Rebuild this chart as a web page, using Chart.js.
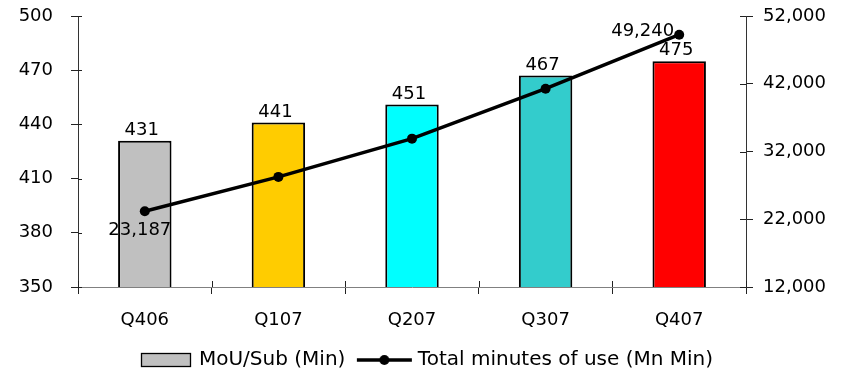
<!DOCTYPE html>
<html>
<head>
<meta charset="utf-8">
<script src="https://cdn.jsdelivr.net/npm/chart.js@4/dist/chart.umd.min.js"></script>
<style>
  html, body { margin: 0; padding: 0; background: #ffffff; }
  #wrap { width: 842px; height: 374px; }
</style>
</head>
<body>
<div id="wrap"><canvas id="c" width="842" height="374"></canvas></div>
<script>
// ---- data ----
const categories = ['Q406', 'Q107', 'Q207', 'Q307', 'Q407'];
const mouPerSub = [431, 441, 451, 467, 475];
const totalMinutes = [23187, 28250, 33900, 41270, 49240];
const lineLabelIndexes = [0, 4];
const seriesNames = ['MoU/Sub (Min)', 'Total minutes of use (Mn Min)'];
const leftTicks = { min: 350, max: 500, step: 30 };
const rightTicks = { min: 12000, max: 52000, step: 10000 };

// ---- styles ----
const barColors = ['#C0C0C0', '#FFCC00', '#00FFFF', '#33CCCC', '#FF0000'];
const FONT = 'DejaVu Sans';
const fmt = v => Number(v).toLocaleString('en-US');

// legend symbol images
function makeBarSymbol() {
  const c = document.createElement('canvas');
  c.width = 72; c.height = 16;
  const g = c.getContext('2d');
  g.fillStyle = '#C0C0C0';
  g.fillRect(18.5, 1.5, 49, 13);
  g.strokeStyle = '#000';
  g.lineWidth = 1.3;
  g.strokeRect(18.5, 1.5, 49, 13);
  return c;
}
function makeLineSymbol() {
  const c = document.createElement('canvas');
  c.width = 72; c.height = 16;
  const g = c.getContext('2d');
  g.strokeStyle = '#000';
  g.lineWidth = 3.5;
  g.beginPath(); g.moveTo(15, 8); g.lineTo(70, 8); g.stroke();
  g.fillStyle = '#000';
  g.beginPath(); g.arc(42.5, 8, 5, 0, Math.PI * 2); g.fill();
  return c;
}
const barSym = makeBarSymbol();
const lineSym = makeLineSymbol();

// crossing tick marks (inner halves) + data labels
const extras = {
  id: 'extras',
  afterDatasetsDraw(chart) {
    const ctx = chart.ctx;
    const ca = chart.chartArea;
    const yL = chart.scales.y, yR = chart.scales.y1, x = chart.scales.x;
    ctx.save();
    ctx.strokeStyle = '#222';
    ctx.lineWidth = 1;
    yL.ticks.forEach(t => {
      const py = Math.round(yL.getPixelForValue(t.value)) + 0.5;
      ctx.beginPath(); ctx.moveTo(ca.left, py); ctx.lineTo(ca.left + 4, py); ctx.stroke();
    });
    yR.ticks.forEach(t => {
      const py = Math.round(yR.getPixelForValue(t.value)) + 0.5;
      ctx.beginPath(); ctx.moveTo(ca.right - 6, py); ctx.lineTo(ca.right, py); ctx.stroke();
    });
    const n = categories.length;
    for (let i = 0; i <= n; i++) {
      const px = Math.round(x.getPixelForValue(i - 0.5)) + 0.5;
      ctx.beginPath(); ctx.moveTo(px, ca.bottom - 6); ctx.lineTo(px, ca.bottom); ctx.stroke();
    }
    // labels
    ctx.fillStyle = '#000';
    ctx.font = '18px "' + FONT + '"';
    ctx.textBaseline = 'alphabetic';
    const barMeta = chart.getDatasetMeta(0);
    barMeta.data.forEach((el, i) => {
      ctx.textAlign = 'center';
      ctx.fillText(String(mouPerSub[i]), el.x - 3, el.y - 6);
    });
    const lineMeta = chart.getDatasetMeta(1);
    lineLabelIndexes.forEach(i => {
      const el = lineMeta.data[i];
      if (i === 0) {
        ctx.textAlign = 'center';
        ctx.fillText(fmt(totalMinutes[i]), el.x - 5, el.y + 24);
      } else {
        ctx.textAlign = 'right';
        ctx.fillText(fmt(totalMinutes[i]), el.x - 5, el.y + 1);
      }
    });
    ctx.restore();
  }
};

const noVPad = s => { s.paddingTop = 0; s.paddingBottom = 0; };

new Chart(document.getElementById('c'), {
  type: 'bar',
  data: {
    labels: categories,
    datasets: [
      {
        type: 'bar',
        label: seriesNames[0],
        data: mouPerSub,
        backgroundColor: barColors,
        borderColor: '#000',
        borderWidth: 2,
        borderSkipped: false,
        barPercentage: 0.40,
        categoryPercentage: 1.0,
        yAxisID: 'y',
        order: 1
      },
      {
        type: 'line',
        label: seriesNames[1],
        data: totalMinutes,
        borderColor: '#000',
        backgroundColor: '#000',
        borderWidth: 3.5,
        pointRadius: 5,
        pointBackgroundColor: '#000',
        pointBorderWidth: 0,
        tension: 0,
        yAxisID: 'y1',
        order: 0
      }
    ]
  },
  options: {
    responsive: false,
    animation: false,
    devicePixelRatio: 1,
    layout: { padding: { top: 16, left: 0, right: 0, bottom: -6 } },
    plugins: {
      tooltip: { enabled: false },
      legend: {
        position: 'bottom',
        labels: {
          usePointStyle: true,
          pointStyleWidth: 60,
          padding: 2.5,
          color: '#000',
          font: { family: FONT, size: 20 },
          generateLabels: () => [
            { text: seriesNames[0], pointStyle: barSym, datasetIndex: 0, hidden: false, lineWidth: 0, fillStyle: '#C0C0C0', strokeStyle: '#000', fontColor: '#000' },
            { text: seriesNames[1], pointStyle: lineSym, datasetIndex: 1, hidden: false, lineWidth: 0, fillStyle: '#000', strokeStyle: '#000', fontColor: '#000' }
          ]
        }
      }
    },
    scales: {
      x: {
        offset: true,
        grid: { display: true, offset: true, drawOnChartArea: false, tickLength: 7, color: '#222', lineWidth: 1 },
        border: { display: true, color: '#808080', width: 1 },
        ticks: { color: '#000', font: { family: FONT, size: 18 }, padding: 16, maxRotation: 0 },
        afterFit: s => { s.height = 60.5; }
      },
      y: {
        position: 'left',
        min: leftTicks.min, max: leftTicks.max,
        grid: { drawOnChartArea: false, tickLength: 7, color: '#222', lineWidth: 1 },
        border: { display: true, color: '#333', width: 1 },
        ticks: { stepSize: leftTicks.step, color: '#000', font: { family: FONT, size: 18 }, padding: 18 },
        afterFit: s => { s.width = 78; noVPad(s); }
      },
      y1: {
        position: 'right',
        min: rightTicks.min, max: rightTicks.max,
        grid: { drawOnChartArea: false, tickLength: 7, color: '#222', lineWidth: 1 },
        border: { display: true, color: '#333', width: 1 },
        ticks: { stepSize: rightTicks.step, color: '#000', font: { family: FONT, size: 18 }, padding: 10, callback: v => fmt(v) },
        afterFit: s => { s.width = 96; noVPad(s); }
      }
    }
  },
  plugins: [extras]
});
</script>
</body>
</html>
